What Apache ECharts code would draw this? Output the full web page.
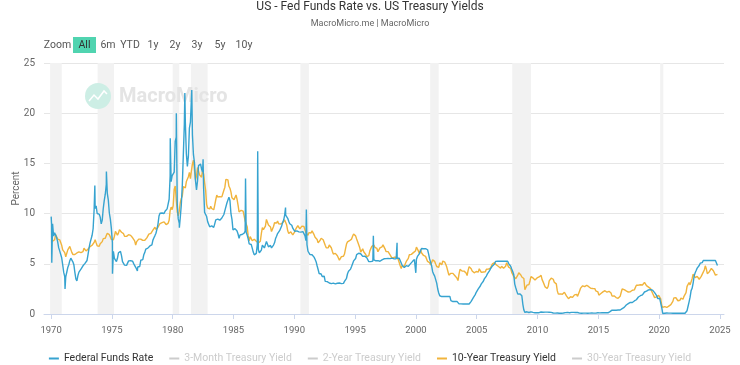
<!DOCTYPE html>
<html><head><meta charset="utf-8">
<script src="https://cdn.jsdelivr.net/npm/echarts@6/dist/echarts.min.js"></script>
<style>html,body{margin:0;padding:0;background:#fff}#c{width:740px;height:365px}</style>
</head><body><div id="c"></div>
<script>
const startYear = 1970;
// Federal Funds Rate, monthly, Jan 1970 .. Oct 2024
const fedFunds = [
8.98,8.98,7.76,8.10,7.95,7.61,7.21,6.61,6.29,6.20,5.60,4.90,
4.14,3.72,3.71,4.16,4.63,4.91,5.31,5.56,5.55,5.20,4.91,4.14,
3.50,3.29,3.83,4.17,4.27,4.46,4.55,4.80,4.87,5.04,5.06,5.33,
5.94,6.58,7.09,7.12,7.84,8.49,10.40,10.50,10.78,10.01,10.03,9.95,
9.65,8.97,9.35,10.51,11.31,11.93,12.92,12.01,11.34,10.06,9.45,8.53,
7.13,6.24,5.54,5.49,5.22,5.55,6.10,6.14,6.24,5.82,5.22,5.20,
4.87,4.77,4.84,4.82,5.29,5.48,5.31,5.29,5.25,5.02,4.95,4.65,
4.61,4.68,4.69,4.73,5.35,5.39,5.42,5.90,6.14,6.47,6.51,6.56,
6.70,6.78,6.79,6.89,7.36,7.60,7.81,8.04,8.45,8.96,9.76,10.03,
10.07,10.06,10.09,10.01,10.24,10.29,10.47,10.94,11.43,13.77,13.18,13.78,
13.82,14.13,17.19,17.61,10.98,9.47,9.03,9.61,10.87,12.81,15.85,18.90,
19.08,15.93,14.70,15.72,18.52,19.10,19.04,17.82,15.87,15.08,13.31,12.37,
13.22,14.78,14.68,14.94,14.45,14.15,12.59,10.12,10.31,9.71,9.20,8.95,
8.68,8.51,8.77,8.80,8.63,8.98,9.37,9.56,9.45,9.48,9.34,9.47,
9.56,9.59,9.91,10.29,10.32,11.06,11.23,11.64,11.30,9.99,9.43,8.38,
8.35,8.50,8.58,8.27,7.97,7.53,7.88,7.90,7.92,7.99,8.05,8.27,
8.14,7.86,7.48,6.99,6.85,6.92,6.56,6.17,5.89,5.85,6.04,6.91,
6.43,6.10,6.13,6.37,6.85,6.73,6.58,6.73,7.22,7.29,6.69,6.77,
6.83,6.58,6.58,6.87,7.09,7.51,7.75,8.01,8.19,8.30,8.35,8.76,
9.12,9.36,9.85,9.84,9.81,9.53,9.24,8.99,9.02,8.84,8.55,8.45,
8.23,8.24,8.28,8.26,8.18,8.29,8.15,8.13,8.20,8.11,7.81,7.31,
6.91,6.25,6.12,5.91,5.78,5.90,5.82,5.66,5.45,5.21,4.81,4.43,
4.03,4.06,3.98,3.73,3.82,3.76,3.25,3.30,3.22,3.10,3.09,2.92,
3.02,3.03,3.07,2.96,3.00,3.04,3.06,3.03,3.09,2.99,3.02,2.96,
3.05,3.25,3.34,3.56,4.01,4.25,4.26,4.47,4.73,4.76,5.29,5.45,
5.53,5.92,5.98,6.05,6.01,6.00,5.85,5.74,5.80,5.76,5.80,5.60,
5.56,5.22,5.31,5.22,5.24,5.27,5.40,5.22,5.30,5.24,5.31,5.29,
5.25,5.19,5.39,5.51,5.50,5.56,5.52,5.54,5.54,5.50,5.52,5.50,
5.56,5.51,5.49,5.45,5.49,5.56,5.54,5.55,5.51,5.07,4.83,4.68,
4.63,4.76,4.81,4.74,4.74,4.76,4.99,5.07,5.22,5.20,5.42,5.30,
5.45,5.73,5.85,6.02,6.27,6.53,6.54,6.50,6.52,6.51,6.51,6.40,
5.98,5.49,5.31,4.80,4.21,3.97,3.77,3.65,3.07,2.49,2.09,1.82,
1.73,1.74,1.73,1.75,1.75,1.75,1.73,1.74,1.75,1.75,1.34,1.24,
1.24,1.26,1.25,1.26,1.26,1.22,1.01,1.03,1.01,1.01,1.00,0.98,
1.00,1.01,1.00,1.00,1.00,1.03,1.26,1.43,1.61,1.76,1.93,2.16,
2.28,2.50,2.63,2.79,3.00,3.04,3.26,3.50,3.62,3.78,4.00,4.16,
4.29,4.49,4.59,4.79,4.94,4.99,5.24,5.25,5.25,5.25,5.25,5.24,
5.25,5.26,5.26,5.25,5.25,5.25,5.26,5.02,4.94,4.76,4.49,4.24,
3.94,2.98,2.61,2.28,1.98,2.00,2.01,2.00,1.81,0.97,0.39,0.16,
0.15,0.22,0.18,0.15,0.18,0.21,0.16,0.16,0.15,0.12,0.12,0.12,
0.11,0.13,0.16,0.20,0.20,0.18,0.18,0.19,0.19,0.19,0.19,0.18,
0.17,0.16,0.14,0.10,0.09,0.09,0.07,0.10,0.08,0.07,0.08,0.07,
0.08,0.10,0.13,0.14,0.16,0.16,0.16,0.13,0.14,0.16,0.16,0.16,
0.14,0.15,0.14,0.15,0.11,0.09,0.09,0.08,0.08,0.09,0.08,0.09,
0.07,0.07,0.08,0.09,0.09,0.10,0.09,0.09,0.09,0.09,0.09,0.12,
0.11,0.11,0.11,0.12,0.12,0.13,0.13,0.14,0.14,0.12,0.12,0.24,
0.34,0.38,0.36,0.37,0.37,0.38,0.39,0.40,0.40,0.40,0.41,0.54,
0.65,0.66,0.79,0.90,0.91,1.04,1.15,1.16,1.15,1.15,1.16,1.30,
1.41,1.42,1.51,1.69,1.70,1.82,1.91,1.91,1.95,2.19,2.20,2.27,
2.40,2.40,2.41,2.42,2.39,2.38,2.40,2.13,2.04,1.83,1.55,1.55,
1.55,1.58,0.65,0.05,0.05,0.08,0.09,0.10,0.09,0.09,0.09,0.09,
0.09,0.08,0.07,0.07,0.06,0.08,0.10,0.09,0.08,0.08,0.08,0.08,
0.08,0.08,0.20,0.33,0.77,1.21,1.68,2.33,2.56,3.08,3.78,4.10,
4.33,4.57,4.65,4.83,5.06,5.08,5.12,5.33,5.33,5.33,5.33,5.33,
5.33,5.33,5.33,5.33,5.33,5.33,5.33,5.33,5.33,4.83
];
// 10-Year Treasury Yield, monthly, Jan 1970 .. Oct 2024
const tenYear = [
7.79,7.24,7.07,7.39,7.91,7.84,7.46,7.53,7.39,7.33,6.84,6.39,
6.24,6.11,5.70,5.83,6.39,6.52,6.73,6.58,6.14,5.93,5.81,5.93,
5.95,6.08,6.07,6.19,6.13,6.11,6.11,6.21,6.55,6.48,6.28,6.36,
6.46,6.64,6.71,6.67,6.85,6.90,7.13,7.40,7.09,6.79,6.73,6.74,
6.99,6.96,7.21,7.51,7.58,7.54,7.81,8.04,8.04,7.90,7.68,7.43,
7.50,7.39,7.73,8.23,8.06,7.86,8.06,8.40,8.43,8.14,8.05,8.00,
7.74,7.79,7.73,7.56,7.90,7.86,7.83,7.77,7.59,7.41,7.29,6.87,
7.21,7.39,7.46,7.37,7.46,7.28,7.33,7.40,7.34,7.52,7.58,7.69,
7.96,8.03,8.04,8.15,8.35,8.46,8.64,8.41,8.42,8.64,8.81,9.01,
9.10,9.10,9.12,9.18,9.25,8.91,8.95,9.03,9.33,10.30,10.65,10.39,
10.80,12.41,12.75,11.47,10.18,9.78,10.25,11.10,11.51,11.75,12.68,12.84,
12.57,13.19,13.12,13.68,14.10,13.47,14.28,14.94,15.32,15.15,13.39,13.72,
14.59,14.43,13.86,13.87,13.62,14.30,13.95,13.06,12.34,10.91,10.55,10.54,
10.46,10.72,10.51,10.40,10.38,10.85,11.38,11.85,11.65,11.54,11.69,11.83,
11.67,11.84,12.32,12.63,13.41,13.56,13.36,12.72,12.52,12.16,11.57,11.50,
11.38,11.51,11.86,11.43,10.85,10.16,10.31,10.33,10.37,10.24,9.78,9.26,
9.19,8.70,7.78,7.30,7.71,7.80,7.30,7.17,7.45,7.43,7.25,7.11,
7.08,7.25,7.25,8.02,8.61,8.40,8.45,8.76,9.42,9.52,8.86,8.99,
8.67,8.21,8.37,8.72,9.09,8.92,9.06,9.26,8.98,8.80,8.96,9.11,
9.09,9.17,9.36,9.18,8.86,8.28,8.02,8.11,8.19,8.01,7.87,7.84,
8.21,8.47,8.59,8.79,8.76,8.48,8.47,8.75,8.89,8.72,8.39,8.08,
8.09,7.85,8.11,8.04,8.07,8.28,8.27,7.90,7.65,7.53,7.42,7.09,
7.03,7.34,7.54,7.48,7.39,7.26,6.84,6.59,6.42,6.59,6.87,6.77,
6.60,6.26,5.98,5.97,6.04,5.96,5.81,5.68,5.36,5.33,5.72,5.77,
5.75,5.97,6.48,6.97,7.18,7.10,7.30,7.24,7.46,7.74,7.96,7.81,
7.78,7.47,7.20,7.06,6.63,6.17,6.28,6.49,6.20,6.04,5.93,5.71,
5.65,5.81,6.27,6.51,6.74,6.91,6.87,6.64,6.83,6.53,6.20,6.30,
6.58,6.42,6.69,6.89,6.71,6.49,6.22,6.30,6.21,6.03,5.88,5.81,
5.54,5.57,5.65,5.64,5.65,5.50,5.46,5.34,4.81,4.53,4.83,4.65,
4.72,5.00,5.23,5.18,5.54,5.90,5.79,5.94,5.92,6.11,6.03,6.28,
6.66,6.52,6.26,5.99,6.44,6.10,6.05,5.83,5.80,5.74,5.72,5.24,
5.16,5.10,4.89,5.14,5.39,5.28,5.24,4.97,4.73,4.57,4.65,5.09,
5.04,4.91,5.28,5.21,5.16,4.93,4.65,4.26,3.87,3.94,4.05,4.03,
4.05,3.90,3.81,3.96,3.57,3.33,3.98,4.45,4.27,4.29,4.30,4.27,
4.15,4.08,3.83,4.35,4.72,4.73,4.50,4.28,4.13,4.10,4.19,4.23,
4.22,4.17,4.50,4.34,4.14,4.00,4.18,4.26,4.20,4.46,4.54,4.47,
4.42,4.57,4.72,4.99,5.11,5.11,5.09,4.88,4.72,4.73,4.60,4.56,
4.76,4.72,4.56,4.69,4.75,5.10,5.00,4.67,4.52,4.53,4.15,4.10,
3.74,3.74,3.51,3.68,3.88,4.10,4.01,3.89,3.69,3.81,3.53,2.42,
2.52,2.87,2.82,2.93,3.29,3.72,3.56,3.59,3.40,3.39,3.40,3.59,
3.73,3.69,3.73,3.85,3.42,3.20,3.01,2.70,2.65,2.54,2.76,3.29,
3.39,3.58,3.41,3.46,3.17,3.00,3.00,2.30,1.98,2.15,2.01,1.98,
1.97,1.97,2.17,2.05,1.80,1.62,1.53,1.68,1.72,1.75,1.65,1.72,
1.91,1.98,1.96,1.76,1.93,2.30,2.58,2.74,2.81,2.62,2.72,2.90,
2.86,2.71,2.72,2.71,2.56,2.60,2.54,2.42,2.53,2.30,2.33,2.21,
1.88,1.98,2.04,1.94,2.20,2.36,2.32,2.17,2.17,2.07,2.26,2.24,
2.09,1.78,1.89,1.81,1.81,1.64,1.50,1.56,1.63,1.76,2.14,2.49,
2.43,2.42,2.48,2.30,2.30,2.19,2.32,2.21,2.20,2.36,2.35,2.40,
2.58,2.86,2.84,2.87,2.98,2.91,2.89,2.89,3.00,3.15,3.12,2.83,
2.71,2.68,2.57,2.53,2.40,2.07,2.06,1.63,1.70,1.71,1.81,1.86,
1.76,1.50,0.87,0.66,0.67,0.73,0.62,0.65,0.68,0.79,0.87,0.93,
1.08,1.26,1.61,1.64,1.62,1.52,1.32,1.28,1.37,1.58,1.56,1.47,
1.76,1.93,2.13,2.75,2.90,3.14,2.90,2.90,3.52,3.98,3.89,3.62,
3.53,3.75,3.66,3.46,3.57,3.75,3.90,4.17,4.38,4.80,4.50,4.02,
4.06,4.21,4.21,4.54,4.48,4.31,4.25,3.87,3.72,3.95
];
// daily spikes visible in the Fed Funds line [decimal year, percent]
const fedFundsSpikes = [
[1970.01,9.7],[1970.06,5.1],[1971.15,2.5],[1973.6,12.8],[1974.55,14.2],[1975.05,4.0],
[1977.1,4.3],[1979.8,17.5],[1980.3,20.0],[1980.55,8.6],[1981.0,22.0],[1981.57,22.3],
[1982.5,15.4],[1985.99,13.5],[1986.99,16.2],[1989.28,10.6],[1990.99,10.4],
[1996.5,7.8],[1998.45,7.1],[1999.99,4.1]
];
// recession periods [start, end] decimal years
const recessions = [[1969.92,1970.88],[1973.83,1975.17],[1980.0,1980.54],[1981.5,1982.87],[1990.5,1991.2],[2001.17,2001.87],[2007.92,2009.46],[2020.08,2020.34]];
const xTicks = [1970,1975,1980,1985,1990,1995,2000,2005,2010,2015,2020,2025];
const seriesNames = ['Federal Funds Rate','3-Month Treasury Yield','2-Year Treasury Yield','10-Year Treasury Yield','30-Year Treasury Yield'];
const zoomButtons = ['Zoom','All','6m','YTD','1y','2y','3y','5y','10y'];

const FONT = 'Roboto, sans-serif';
const toPoints = arr => arr.map((v, i) => [+(startYear + i / 12 + 1 / 24).toFixed(4), v]);
const blueData = toPoints(fedFunds).concat(fedFundsSpikes).sort((a, b) => a[0] - b[0]);
const yellowData = toPoints(tenYear);

const chart = echarts.init(document.getElementById('c'), null, {renderer: 'canvas'});
const btnX = [57.5, 84.5, 108, 130, 153, 175, 197, 220, 244];
const graphics = [
  {type: 'rect', z: 5, shape: {x: 73, y: 37, width: 23, height: 16}, style: {fill: '#50d4b0'}},
  // watermark
  {type: 'circle', z: 2, shape: {cx: 98, cy: 96, r: 13}, style: {fill: '#cdeee5'}},
  {type: 'polyline', z: 2, shape: {points: [[89, 101], [94, 95], [98, 99], [104, 91], [107, 94]]}, style: {stroke: '#fff', lineWidth: 1.5, fill: null}},
  {type: 'text', z: 2, x: 119, y: 97, style: {text: 'MacroMicro', fill: '#e4e4e4', font: 'bold 20px ' + FONT, verticalAlign: 'middle'}}
];
zoomButtons.forEach((b, i) => graphics.push({type: 'text', z: 6, x: btnX[i], y: 45,
  style: {text: b, fill: i === 1 ? '#333' : '#555', font: '10.5px ' + FONT, align: 'center', verticalAlign: 'middle'}}));

const series = [
  {name: '_rec', type: 'line', data: [], z: 1, silent: true,
   markArea: {silent: true, itemStyle: {color: '#f2f2f2', opacity: 1}, data: recessions.map(r => [{xAxis: r[0]}, {xAxis: r[1]}])}},
  {name: seriesNames[0], type: 'line', data: blueData, showSymbol: false, symbol: 'none', sampling: null, z: 4,
   lineStyle: {width: 1.4, color: '#36a3d0'}, itemStyle: {color: '#36a3d0'}},
  {name: seriesNames[1], type: 'line', data: [], showSymbol: false, itemStyle: {color: '#888'}},
  {name: seriesNames[2], type: 'line', data: [], showSymbol: false, itemStyle: {color: '#888'}},
  {name: seriesNames[3], type: 'line', data: yellowData, showSymbol: false, symbol: 'none', z: 3,
   lineStyle: {width: 1.4, color: '#f1b43c'}, itemStyle: {color: '#f1b43c'}},
  {name: seriesNames[4], type: 'line', data: [], showSymbol: false, itemStyle: {color: '#888'}}
];

chart.setOption({
  animation: false,
  backgroundColor: '#fff',
  title: {text: 'US - Fed Funds Rate vs. US Treasury Yields', subtext: 'MacroMicro.me | MacroMicro', left: 'center', top: 1, padding: 0, itemGap: 6,
    textStyle: {fontFamily: FONT, fontSize: 12, fontWeight: 'normal', color: '#333'},
    subtextStyle: {fontFamily: FONT, fontSize: 9, color: '#666'}},
  legend: {data: seriesNames, top: 348, left: 'center', itemGap: 16, itemWidth: 10, itemHeight: 2, icon: 'rect',
    selected: {[seriesNames[1]]: false, [seriesNames[2]]: false, [seriesNames[4]]: false},
    inactiveColor: '#cccccc', textStyle: {fontFamily: FONT, fontSize: 10.5, color: '#333'}},
  grid: {left: 44, right: 16, top: 63, bottom: 51, containLabel: false, outerBoundsMode: 'none'},
  xAxis: {type: 'value', min: 1969.42, max: 2025.33,
    axisLine: {lineStyle: {color: '#ccd6eb'}},
    axisTick: {show: true, length: 5, lineStyle: {color: '#ccd6eb'}, customValues: xTicks},
    axisLabel: {customValues: xTicks, formatter: v => String(Math.round(v)), margin: 12, color: '#666', fontFamily: FONT, fontSize: 9.5},
    splitLine: {show: false}},
  yAxis: {type: 'value', min: 0, max: 25, interval: 5, name: 'Percent', nameLocation: 'middle', nameGap: 23, nameRotate: 90,
    nameMoveOverlap: false,
    nameTextStyle: {color: '#666', fontFamily: FONT, fontSize: 10},
    axisLine: {show: false}, axisTick: {show: false},
    axisLabel: {margin: 9, color: '#666', fontFamily: FONT, fontSize: 10},
    splitLine: {lineStyle: {color: '#e6e6e6'}}},
  graphic: graphics,
  series: series
});
</script></body></html>
